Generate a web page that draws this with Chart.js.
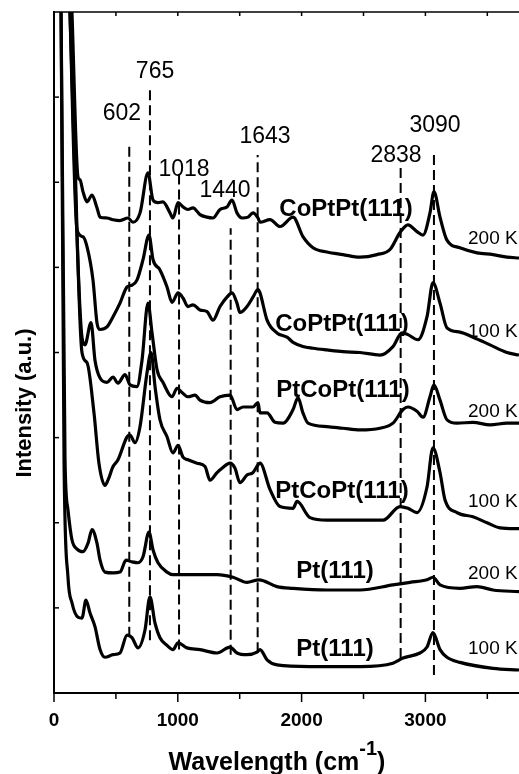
<!DOCTYPE html>
<html>
<head>
<meta charset="utf-8">
<script src="https://cdn.jsdelivr.net/npm/chart.js@4/dist/chart.umd.min.js"></script>
<style>
  body { margin: 0; background: #fff; }
  canvas { display: block; }
</style>
</head>
<body>
<canvas id="spectra" width="519" height="774"></canvas>
<script>
// wavenumber (cm-1) and intensity (a.u., offset per trace)
const coPtPt200Wn = [120,145,194,210,234,267,307,347,372,428,477,533,598,638,695,759,800,840,880,937,961,1002,1042,1082,1123,1179,1236,1284,1341,1397,1438,1478,1519,1567,1607,1648,1664,1745,1826,1931,2011,2092,2205,2334,2472,2609,2714,2795,2859,2932,2981,3037,3069,3118,3174,3279,3417,3546,3659,3756];
const coPtPt200Int = [9.0,8.0,6.06,6.03,5.89,5.77,5.85,5.70,5.59,5.58,5.56,5.55,5.58,5.53,5.64,6.11,5.79,5.76,5.77,5.64,5.58,5.76,5.71,5.68,5.70,5.62,5.59,5.58,5.68,5.71,5.79,5.64,5.58,5.59,5.64,5.58,5.53,5.56,5.48,5.59,5.36,5.23,5.18,5.15,5.12,5.15,5.21,5.41,5.50,5.42,5.38,5.64,5.89,5.59,5.32,5.23,5.17,5.15,5.12,5.11];

const coPtPt100Wn = [110,129,186,234,267,315,347,372,428,477,533,590,630,670,719,767,800,856,913,953,1002,1042,1082,1123,1179,1236,1284,1341,1397,1438,1478,1502,1559,1607,1648,1664,1721,1801,1882,1931,2011,2092,2205,2334,2472,2633,2738,2811,2859,2940,3013,3061,3118,3174,3279,3384,3522,3659,3756];
const coPtPt100Int = [9.0,8.0,5.44,5.36,5.24,4.85,4.35,4.27,4.30,4.42,4.58,4.77,4.79,4.85,5.09,5.38,5.09,4.97,4.77,4.59,4.70,4.64,4.54,4.56,4.50,4.48,4.38,4.54,4.65,4.70,4.58,4.47,4.54,4.65,4.74,4.70,4.38,4.23,4.18,4.12,4.07,4.05,4.03,4.01,4.00,3.97,4.07,4.23,4.21,4.15,4.42,4.82,4.58,4.29,4.24,4.18,4.09,4.00,3.97];

const ptCoPt200Wn = [110,129,226,250,299,331,372,428,477,517,574,614,670,711,759,792,832,880,953,994,1034,1082,1139,1179,1260,1341,1422,1478,1527,1607,1648,1664,1721,1785,1850,1931,1971,2011,2052,2205,2334,2472,2633,2738,2819,2859,2932,2981,3037,3069,3118,3174,3255,3384,3522,3659,3756];
const ptCoPt200Int = [9.0,8.0,4.18,4.09,4.35,3.91,3.70,3.65,3.71,3.64,3.74,3.62,3.60,3.91,4.58,4.23,3.80,3.65,3.48,3.58,3.53,3.48,3.50,3.44,3.41,3.48,3.50,3.33,3.36,3.36,3.41,3.29,3.29,3.18,3.17,3.33,3.47,3.29,3.17,3.13,3.11,3.09,3.11,3.17,3.33,3.36,3.31,3.24,3.48,3.62,3.44,3.21,3.17,3.18,3.15,3.17,3.17];

const ptCoPt100Wn = [110,137,226,267,323,363,412,436,477,517,590,614,654,695,751,784,816,856,913,961,1002,1042,1082,1155,1220,1260,1317,1357,1422,1462,1502,1559,1607,1648,1664,1745,1826,1931,1963,2068,2205,2472,2658,2795,2859,2932,3013,3061,3118,3158,3255,3384,3498,3603,3756];
const ptCoPt100Int = [9.0,8.0,4.00,3.88,3.29,2.70,2.44,2.50,2.66,2.74,3.01,3.03,2.94,3.13,3.76,4.00,3.60,3.21,3.01,2.82,2.91,2.77,2.74,2.70,2.66,2.50,2.59,2.64,2.70,2.64,2.47,2.56,2.59,2.68,2.70,2.39,2.19,2.17,2.25,2.06,2.03,2.03,2.03,2.19,2.17,2.12,2.42,2.88,2.59,2.27,2.12,2.07,2.00,1.94,1.93];

const pt200Wn = [30,57,89,113,145,186,234,275,307,347,372,412,477,533,582,630,679,719,767,800,840,913,961,1074,1179,1317,1446,1559,1656,1801,1931,2205,2472,2738,2876,3013,3061,3118,3279,3417,3546,3756];
const pt200Int = [9.0,8.0,2.74,2.15,1.80,1.69,1.66,1.76,1.92,1.76,1.56,1.42,1.41,1.42,1.56,1.54,1.53,1.60,1.89,1.68,1.53,1.42,1.39,1.39,1.39,1.39,1.36,1.30,1.33,1.25,1.23,1.21,1.21,1.27,1.30,1.33,1.36,1.27,1.23,1.25,1.21,1.19];

const pt100Wn = [30,57,81,113,145,194,226,258,291,331,372,412,477,533,590,630,679,735,775,816,856,913,961,1002,1074,1179,1317,1422,1478,1559,1640,1664,1721,1801,2068,2472,2738,2819,2956,3013,3061,3118,3174,3279,3546,3756];
const pt100Int = [9.0,8.0,2.74,1.36,1.06,0.89,0.88,1.09,0.94,0.78,0.51,0.42,0.45,0.47,0.68,0.65,0.53,0.74,1.13,0.82,0.65,0.56,0.51,0.59,0.53,0.51,0.47,0.54,0.47,0.45,0.48,0.51,0.39,0.33,0.31,0.31,0.35,0.41,0.47,0.54,0.71,0.51,0.42,0.36,0.29,0.27];

const sampleNames = ['CoPtPt(111)', 'CoPtPt(111)', 'PtCoPt(111)', 'PtCoPt(111)', 'Pt(111)', 'Pt(111)'];
const temperatures = ['200 K', '100 K', '200 K', '100 K', '200 K', '100 K'];
const xTickValues = [0, 1000, 2000, 3000];

// dashed peak markers
const peakLabels = ['602', '765', '1018', '1440', '1643', '2838', '3090'];
const peakLineX = [608, 775, 1010, 1427, 1645, 2800, 3069];
const peakLineTop = [6.47, 7.14, 6.09, 5.46, 6.32, 6.23, 6.38];
const peakLineBottom = [0.66, 0.62, 0.51, 0.45, 0.48, 0.41, 0.21];

// annotation anchors (data units)
const peakLabelX = [549, 816, 1050, 1381, 1704, 2763, 3078];
const peakLabelY = [6.82, 7.32, 6.17, 5.92, 6.55, 6.33, 6.69];
const nameX = [2359, 2326, 2334, 2326, 2270, 2270];
const nameY = [5.70, 4.35, 3.58, 2.39, 1.45, 0.54];
const tempX = 3344;
const tempY = [5.36, 4.27, 3.33, 2.27, 1.42, 0.54];

const spectra = [
    [coPtPt200Wn, coPtPt200Int],
    [coPtPt100Wn, coPtPt100Int],
    [ptCoPt200Wn, ptCoPt200Int],
    [ptCoPt100Wn, ptCoPt100Int],
    [pt200Wn, pt200Int],
    [pt100Wn, pt100Int]
];

const FONT = '"Liberation Sans", Arial, Helvetica, sans-serif';

const datasets = [];
spectra.forEach(([wn, inten], i) => {
    datasets.push({
        label: sampleNames[i] + ' ' + temperatures[i],
        data: wn.map((w, j) => ({ x: w, y: inten[j] })),
        borderColor: '#000',
        borderWidth: 3.2,
        pointRadius: 0,
        cubicInterpolationMode: 'monotone',
        fill: false
    });
});
peakLineX.forEach((px, i) => {
    datasets.push({
        label: peakLabels[i],
        data: [{ x: px, y: peakLineBottom[i] }, { x: px, y: peakLineTop[i] }],
        borderColor: '#000',
        borderWidth: 2,
        borderDash: [10, 5],
        pointRadius: 0,
        fill: false
    });
});

function line(ctx, x1, y1, x2, y2) {
    ctx.beginPath();
    ctx.moveTo(x1, y1);
    ctx.lineTo(x2, y2);
    ctx.stroke();
}

const decorations = {
    id: 'decorations',
    afterDraw(chart) {
        const { ctx, chartArea: a, scales: { x, y } } = chart;
        ctx.save();
        ctx.strokeStyle = '#000';
        ctx.fillStyle = '#000';

        // top frame and tick marks
        ctx.lineWidth = 1.5;
        line(ctx, a.left, a.top, a.right, a.top);
        for (let v = 0; v <= x.max; v += 500) {
            const px = x.getPixelForValue(v);
            line(ctx, px, a.bottom, px, a.bottom + (v % 1000 === 0 ? 9 : 6));
            if (v > 0) line(ctx, px, a.top, px, a.top + 4);
        }
        for (let v = 1; v < y.max; v++) {
            const py = y.getPixelForValue(v);
            line(ctx, a.left, py, a.left + 5, py);
        }

        // peak labels
        ctx.textAlign = 'center';
        ctx.textBaseline = 'alphabetic';
        ctx.font = '23px ' + FONT;
        peakLabels.forEach((t, i) => {
            ctx.fillText(t, x.getPixelForValue(peakLabelX[i]), y.getPixelForValue(peakLabelY[i]) + 8);
        });

        // sample names
        ctx.font = 'bold 24px ' + FONT;
        sampleNames.forEach((t, i) => {
            ctx.fillText(t, x.getPixelForValue(nameX[i]), y.getPixelForValue(nameY[i]) + 8.5);
        });

        // temperatures
        ctx.textAlign = 'left';
        ctx.font = '19px ' + FONT;
        temperatures.forEach((t, i) => {
            ctx.fillText(t, x.getPixelForValue(tempX), y.getPixelForValue(tempY[i]) + 7);
        });

        // x title with superscript
        const main = 'Wavelength (cm';
        const sup = '-1';
        const end = ')';
        ctx.font = 'bold 25px ' + FONT;
        const wMain = ctx.measureText(main).width;
        const wEnd = ctx.measureText(end).width;
        ctx.font = 'bold 20px ' + FONT;
        const wSup = ctx.measureText(sup).width;
        let tx = 277 - (wMain + wSup + wEnd) / 2;
        const base = 770;
        ctx.font = 'bold 25px ' + FONT;
        ctx.fillText(main, tx, base);
        tx += wMain;
        ctx.font = 'bold 20px ' + FONT;
        ctx.fillText(sup, tx, base - 15);
        tx += wSup;
        ctx.font = 'bold 25px ' + FONT;
        ctx.fillText(end, tx, base);

        // y title
        ctx.translate(25, 403);
        ctx.rotate(-Math.PI / 2);
        ctx.textAlign = 'center';
        ctx.textBaseline = 'middle';
        ctx.font = 'bold 22px ' + FONT;
        ctx.fillText('Intensity (a.u.)', 0, 0);
        ctx.restore();
    }
};

new Chart(document.getElementById('spectra'), {
    type: 'line',
    data: { datasets: datasets },
    options: {
        responsive: false,
        devicePixelRatio: 1,
        animation: false,
        layout: { padding: { top: 12, right: 0, left: 0, bottom: 0 } },
        plugins: {
            legend: { display: false },
            tooltip: { enabled: false }
        },
        scales: {
            x: {
                type: 'linear',
                min: 0,
                max: 3756,
                afterBuildTicks: scale => {
                    scale.ticks = xTickValues.map(v => ({ value: v }));
                },
                afterFit: scale => { scale.height = 81; },
                grid: { display: false, drawTicks: false },
                border: { display: true, color: '#000', width: 2 },
                ticks: {
                    autoSkip: false,
                    maxRotation: 0,
                    padding: 16,
                    color: '#000',
                    font: { family: FONT, size: 19, weight: 'bold' },
                    callback: value => String(value)
                }
            },
            y: {
                min: 0,
                max: 8,
                afterFit: scale => { scale.width = 54; },
                grid: { display: false, drawTicks: false },
                border: { display: true, color: '#000', width: 2 },
                ticks: { display: false, stepSize: 1 }
            }
        }
    },
    plugins: [decorations]
});
</script>
</body>
</html>
